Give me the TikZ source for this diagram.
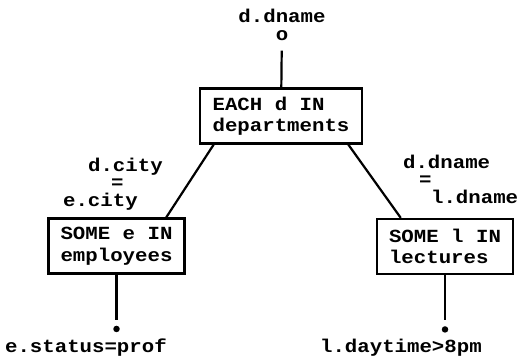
\documentclass[tikz,border=0pt]{standalone}
\usepackage{fontspec}
\setmonofont{Liberation Mono}[FakeStretch=1.12]
\usepackage{tikz}
\usetikzlibrary{positioning,calc}

\begin{document}
\begin{tikzpicture}[x=1pt, y=-1pt, line width=2.2pt, node distance=50pt,
    every node/.style={font=\ttfamily\bfseries\fontsize{18.5}{17.5}\selectfont},
    qbox/.style={draw, align=left, inner xsep=12pt, inner ysep=3pt, minimum height=55pt,
        font=\ttfamily\bfseries\fontsize{18.5}{21.5}\selectfont},
    lbl/.style={inner sep=0pt, align=left},
    dot/.style={circle, fill, inner sep=0pt, minimum size=6.5pt}]
    \useasboundingbox (0,0) rectangle (521,363);
    % query blocks
    \node [qbox, minimum width=162pt] (each) at (281,116) {EACH d IN\\departments};
    \node [qbox, minimum width=133pt] (emp) at (116.5,246) {SOME e IN\\employees};
    \node [qbox, minimum width=136pt] (lect) at (445,246.5) {SOME l IN\\lectures};
    % join conditions
    \node [lbl, align=center] (root) at (282,25) {d.dname\\o};
    \node [lbl, anchor=west] (lcond) at (62,184) {\hspace*{25pt}d.city\\\hspace*{48pt}=\\e.city};
    \node [lbl, anchor=west] (rcond) at (402,179) {d.dname\\\hspace*{16pt}=\\\hspace*{28pt}l.dname};
    % selections
    \node [dot, below=of emp] (edot) {};
    \node [dot, below=of lect] (ldot) {};
    \node [lbl, anchor=base west] (estat) at (4,352) {e.status=prof};
    \node [lbl, anchor=base west] (ltime) at (319,352) {l.daytime>8pm};

    \draw [shorten <=9pt] (root) -- (each);
    \draw ($(each.south west)!0.09!(each.south east)$) -- ($(emp.north west)!0.86!(emp.north east)$);
    \draw ($(each.south west)!0.91!(each.south east)$) -- ($(lect.north west)!0.18!(lect.north east)$);
    \draw [shorten >=5pt] (emp) -- (edot);
    \draw [shorten >=5pt] (lect) -- (ldot);
\end{tikzpicture}
\end{document}
